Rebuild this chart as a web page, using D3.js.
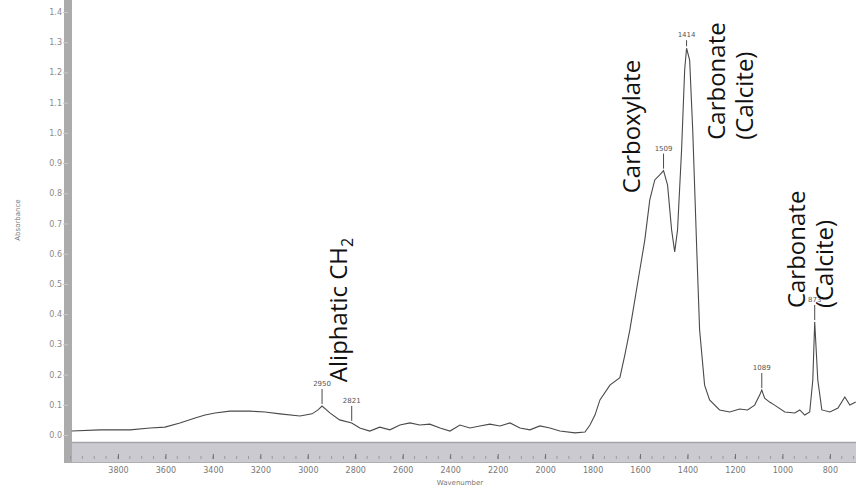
<!DOCTYPE html>
<html><head><meta charset="utf-8">
<script src="https://cdn.jsdelivr.net/npm/d3@7"></script>
<style>
html,body{margin:0;padding:0;background:#fff;}
svg{display:block;}
</style></head>
<body>
<svg id="chart" width="856" height="489"></svg>
<script>
// ---- data ----
const wavenumber = [3995,3876,3749,3665,3602,3539,3475,3433,3391,3328,3244,3180,3117,3033,2982,2957,2940,2907,2866,2815,2781,2739,2697,2654,2612,2570,2528,2486,2443,2401,2359,2317,2275,2233,2190,2148,2106,2064,2022,1980,1938,1874,1832,1811,1790,1769,1727,1685,1664,1643,1622,1601,1580,1559,1538,1517,1501,1484,1467,1454,1442,1425,1412,1404,1391,1378,1361,1349,1328,1307,1265,1222,1180,1147,1117,1096,1087,1075,1054,1033,990,948,927,906,885,872,864,851,834,800,766,737,716,691];
const absorbance = [0.013,0.017,0.017,0.023,0.026,0.040,0.056,0.066,0.073,0.079,0.079,0.076,0.070,0.063,0.070,0.083,0.096,0.073,0.050,0.040,0.023,0.013,0.026,0.017,0.033,0.040,0.033,0.036,0.023,0.013,0.033,0.023,0.030,0.036,0.030,0.040,0.023,0.017,0.030,0.023,0.013,0.007,0.010,0.033,0.066,0.116,0.165,0.190,0.265,0.348,0.447,0.546,0.645,0.778,0.844,0.861,0.875,0.827,0.679,0.606,0.679,0.943,1.208,1.280,1.241,1.009,0.612,0.348,0.165,0.116,0.083,0.076,0.086,0.083,0.099,0.132,0.149,0.122,0.109,0.099,0.076,0.073,0.083,0.066,0.076,0.182,0.374,0.182,0.083,0.076,0.089,0.126,0.099,0.109];
const peakWavenumbers = [2940, 2815, 1501, 1404, 1087, 864];
const peakLabels = ["2950", "2821", "1509", "1414", "1089", "873"];
const yTicks = [0.0,0.1,0.2,0.3,0.4,0.5,0.6,0.7,0.8,0.9,1.0,1.1,1.2,1.3,1.4];
const xTicks = [3800,3600,3400,3200,3000,2800,2600,2400,2200,2000,1800,1600,1400,1200,1000,800];
const annotations = [
  {w: 2835, a: 0.175, lines: ["Aliphatic CH", "2"]},
  {w: 1600, a: 0.80, lines: ["Carboxylate"]},
  {w: 1242, a: 0.977, lines: ["Carbonate", "(Calcite)"]},
  {w: 905, a: 0.42, lines: ["Carbonate", "(Calcite)"]}
];
const xTitle = "Wavenumber";
const yTitle = "Absorbance";

// ---- layout ----
const svg = d3.select("#chart");
const x = d3.scaleLinear().domain([4000, 690]).range([70.5, 856]);
const y = d3.scaleLinear().domain([0, 1.4]).range([435, 12]);
const gray = "#8a8a8a";

// x band
svg.append("rect").attr("x", 64).attr("y", 442).attr("width", 792).attr("height", 21)
  .attr("fill", "#cacad0");
svg.append("line").attr("x1", 64).attr("x2", 856).attr("y1", 442.5).attr("y2", 442.5)
  .attr("stroke", "#a4a4ab").attr("stroke-width", 1.5);
svg.append("line").attr("x1", 64).attr("x2", 856).attr("y1", 462.5).attr("y2", 462.5)
  .attr("stroke", "#b0b0b4").attr("stroke-width", 1);
// y-axis bar
svg.append("rect").attr("x", 64).attr("y", 0).attr("width", 8).attr("height", 463)
  .attr("fill", "#ababab");

// y axis ticks & labels
const yAxis = d3.axisLeft(y).tickValues(yTicks).tickFormat(d3.format(".1f")).tickSize(5).tickPadding(1);
const yg = svg.append("g").attr("transform", "translate(68,0)").call(yAxis);
yg.select(".domain").remove();
yg.selectAll(".tick line").attr("stroke", "#c8c8c8");
yg.selectAll(".tick text").attr("fill", gray).attr("font-size", 8).attr("font-family", "DejaVu Sans");

// x axis ticks & labels
const xMinor = d3.range(700, 4001, 50);
svg.append("g").selectAll("line").data(xMinor).join("line")
  .attr("x1", d => x(d)).attr("x2", d => x(d)).attr("y1", 456).attr("y2", 459)
  .attr("stroke", "#8e8e95").attr("stroke-width", 0.8);
const xAxis = d3.axisBottom(x).tickValues(xTicks).tickFormat(d3.format("d")).tickSize(5).tickPadding(8);
const xg = svg.append("g").attr("transform", "translate(0,454)").call(xAxis);
xg.select(".domain").remove();
xg.selectAll(".tick line").attr("stroke", "#6e6e75");
xg.selectAll(".tick text").attr("fill", "#777").attr("font-size", 8).attr("font-family", "DejaVu Sans");

// axis titles
svg.append("text").attr("x", 460).attr("y", 485).attr("text-anchor", "middle")
  .attr("font-size", 7).attr("font-family", "DejaVu Sans").attr("fill", "#777").text(xTitle);
svg.append("text").attr("transform", "translate(20,220) rotate(-90)").attr("text-anchor", "middle")
  .attr("font-size", 7).attr("font-family", "DejaVu Sans").attr("fill", "#777").text(yTitle);

// spectrum
const pts = wavenumber.map((w, i) => [w, absorbance[i]]);
svg.append("path").datum(pts)
  .attr("d", d3.line().x(d => x(d[0])).y(d => y(d[1])))
  .attr("fill", "none").attr("stroke", "#4a4a4a").attr("stroke-width", 1.1);

// peak labels
const interp = w => {
  for (let i = 0; i < wavenumber.length - 1; i++) {
    if (w <= wavenumber[i] && w >= wavenumber[i + 1]) {
      const t = (wavenumber[i] - w) / (wavenumber[i] - wavenumber[i + 1]);
      return absorbance[i] + t * (absorbance[i + 1] - absorbance[i]);
    }
  }
  return 0;
};
const pk = svg.append("g");
peakWavenumbers.forEach((w, i) => {
  const px = x(w), py = y(interp(w));
  const len = i === 3 ? 8 : 17;
  pk.append("line").attr("x1", px).attr("x2", px).attr("y1", py - 2).attr("y2", py - len)
    .attr("stroke", "#4a4a4a").attr("stroke-width", 1);
  pk.append("text").attr("x", px).attr("y", py - len - 3).attr("text-anchor", "middle")
    .attr("font-size", 7).attr("font-family", "DejaVu Sans").attr("fill", "#555").text(peakLabels[i]);
});

// annotations (rotated)
const an = svg.append("g");
annotations.forEach(a => {
  const t = an.append("text")
    .attr("transform", `translate(${x(a.w)},${y(a.a)}) rotate(-90)`)
    .attr("font-size", 24).attr("font-family", "Open Sans").attr("fill", "#111");
  if (a.lines[0].startsWith("Aliphatic")) {
    t.append("tspan").text(a.lines[0]);
    t.append("tspan").attr("dy", 6).attr("font-size", 16).text(a.lines[1]);
  } else {
    a.lines.forEach((l, j) => t.append("tspan").attr("x", 0).attr("dy", j === 0 ? 0 : 28).text(l));
  }
});
</script>
</body></html>
